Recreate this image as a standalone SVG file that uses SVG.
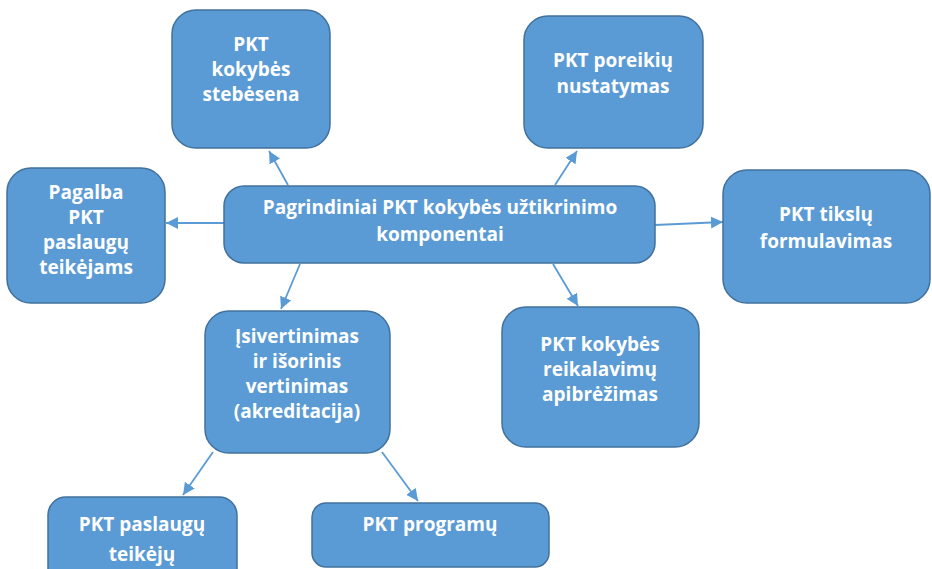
<svg xmlns="http://www.w3.org/2000/svg" width="932" height="569" viewBox="0 0 932 569">
<style>
.box{fill:#5b9bd5;stroke:#41719c;stroke-width:1.5}
.t{fill:#ffffff;font-family:"Open Sans","Liberation Sans",sans-serif;font-weight:700;font-size:19px;text-anchor:middle}
.c{stroke:#5b9bd5;stroke-width:1.8;fill:none;marker-end:url(#ah)}
</style>
<defs>
<marker id="ah" markerUnits="userSpaceOnUse" markerWidth="14" markerHeight="12" refX="12" refY="6" orient="auto">
<path d="M0,0 L12,6 L0,12 Z" fill="#5b9bd5"/>
</marker>
</defs>
<rect width="932" height="569" fill="#ffffff"/>
<g id="connectors">
<line class="c" x1="288" y1="185" x2="269" y2="151"/>
<line class="c" x1="555" y1="185" x2="577" y2="151"/>
<line class="c" x1="224" y1="223" x2="166" y2="223"/>
<line class="c" x1="655" y1="225" x2="723" y2="222"/>
<line class="c" x1="553" y1="264" x2="578" y2="306"/>
<line class="c" x1="300" y1="264" x2="281" y2="309"/>
<line class="c" x1="213" y1="452" x2="183" y2="495"/>
<line class="c" x1="382" y1="452" x2="418" y2="501"/>
</g>
<g id="center">
<rect class="box" x="224" y="186" width="431" height="77" rx="20"/>
<text class="t" x="440" y="214">Pagrindiniai PKT kokybės užtikrinimo</text>
<text class="t" x="440" y="241">komponentai</text>
</g>
<g id="stebesena">
<rect class="box" x="172" y="10" width="158" height="138" rx="24"/>
<text class="t" x="251" y="51">PKT</text>
<text class="t" x="251" y="76">kokybės</text>
<text class="t" x="251" y="101">stebėsena</text>
</g>
<g id="poreikiu">
<rect class="box" x="524" y="16" width="179" height="132" rx="24"/>
<text class="t" x="613" y="67">PKT poreikių</text>
<text class="t" x="613" y="93">nustatymas</text>
</g>
<g id="pagalba">
<rect class="box" x="7" y="168" width="158" height="135" rx="24"/>
<text class="t" x="86" y="199">Pagalba</text>
<text class="t" x="86" y="224">PKT</text>
<text class="t" x="86" y="249">paslaugų</text>
<text class="t" x="86" y="274">teikėjams</text>
</g>
<g id="tikslu">
<rect class="box" x="723" y="170" width="207" height="133" rx="24"/>
<text class="t" x="826" y="221">PKT tikslų</text>
<text class="t" x="826" y="248">formulavimas</text>
</g>
<g id="reikalavimu">
<rect class="box" x="502" y="307" width="197" height="140" rx="24"/>
<text class="t" x="600" y="351">PKT kokybės</text>
<text class="t" x="600" y="376">reikalavimų</text>
<text class="t" x="600" y="401">apibrėžimas</text>
</g>
<g id="isivertinimas">
<rect class="box" x="205" y="311" width="185" height="142" rx="24"/>
<text class="t" x="297" y="343">Įsivertinimas</text>
<text class="t" x="297" y="368">ir išorinis</text>
<text class="t" x="297" y="393">vertinimas</text>
<text class="t" x="297" y="418">(akreditacija)</text>
</g>
<g id="teikeju">
<rect class="box" x="48" y="497" width="189" height="90" rx="18"/>
<text class="t" x="142" y="531">PKT paslaugų</text>
<text class="t" x="142" y="561">teikėjų</text>
</g>
<g id="programu">
<rect class="box" x="312" y="503" width="237" height="64" rx="14"/>
<text class="t" x="430" y="531">PKT programų</text>
</g>
</svg>
